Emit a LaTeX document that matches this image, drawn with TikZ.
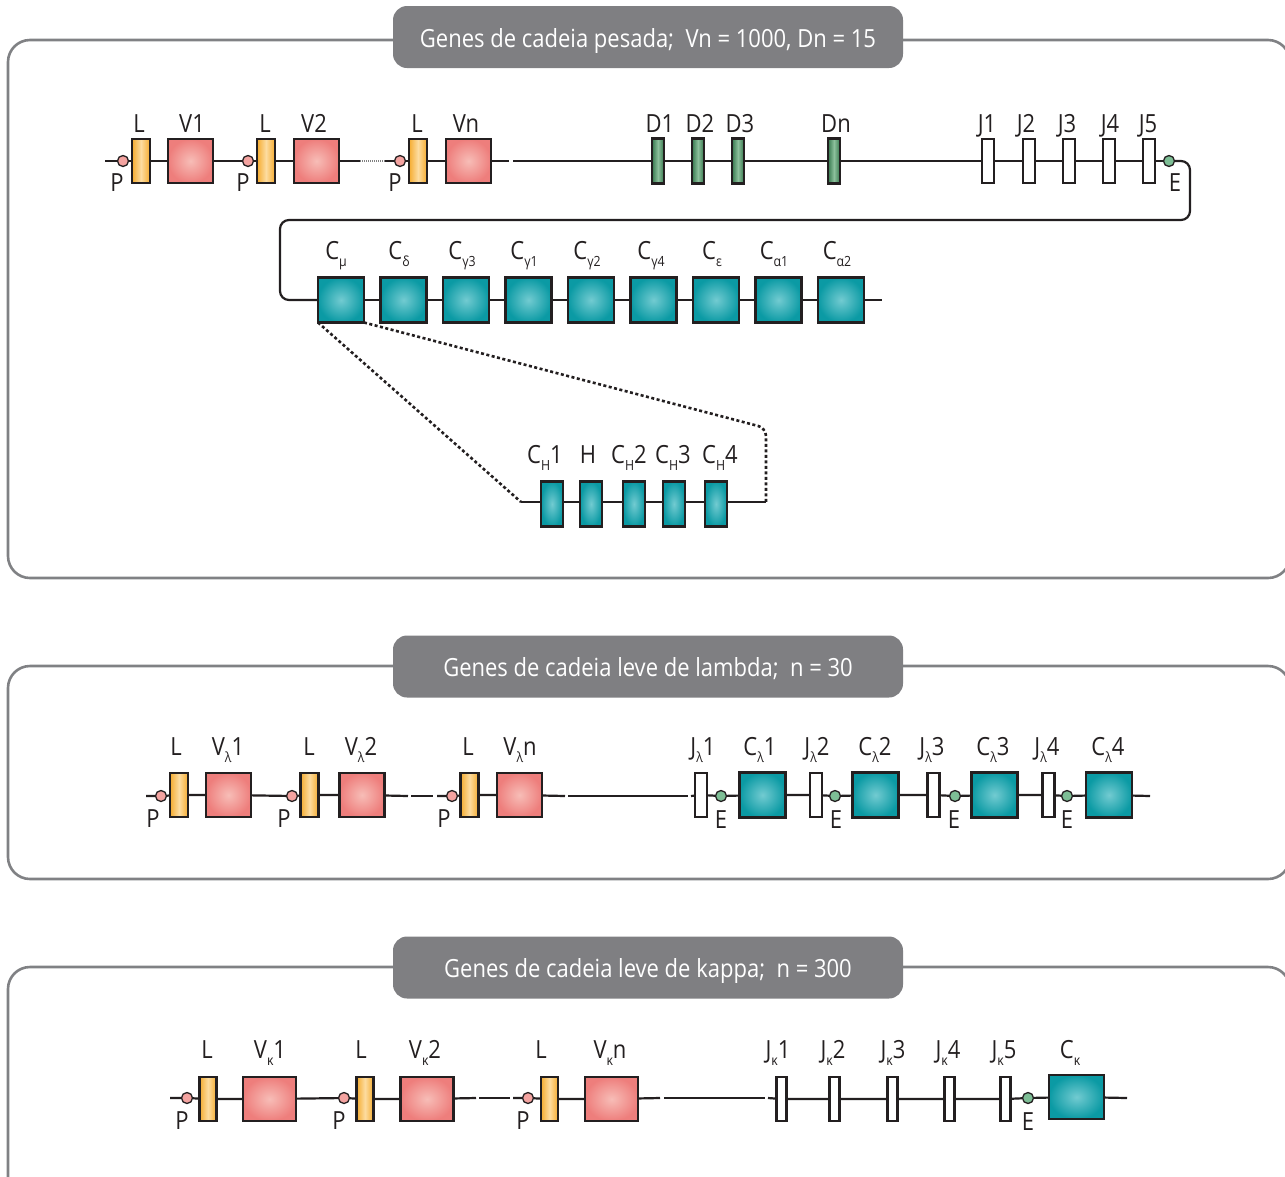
\documentclass[tikz,border=0pt]{standalone}
\usepackage{fontspec}
\setmainfont{Open Sans}[FakeStretch=0.88]
\usetikzlibrary{backgrounds}
\definecolor{stk}{HTML}{231F20}
\definecolor{frm}{HTML}{808184}
\definecolor{ttl}{HTML}{7F7F82}
\definecolor{vout}{HTML}{EE7E7C}
\definecolor{vin}{HTML}{F7BDB7}
\definecolor{lout}{HTML}{F5AC30}
\definecolor{lin}{HTML}{FDDCA0}
\definecolor{dout}{HTML}{37784E}
\definecolor{din}{HTML}{8CC09C}
\definecolor{cout}{HTML}{0B9AA4}
\definecolor{cin}{HTML}{72CBD1}
\definecolor{pfill}{HTML}{F4A3A0}
\definecolor{efill}{HTML}{7DBE95}
\newcommand\sbs[1]{\raisebox{-7.5pt}{\fontsize{14}{14}\selectfont #1}}
\tikzset{
  seg/.style={draw=stk, line width=2.6pt, inner sep=0pt, outer sep=0pt},
  vbox/.style={seg, minimum width=45, minimum height=44, inner color=vin, outer color=vout},
  lbox/.style={seg, minimum width=18, minimum height=44, left color=lout, right color=lout, middle color=lin},
  dbox/.style={seg, minimum width=12, minimum height=45, left color=dout, right color=dout, middle color=din},
  jbox/.style={seg, minimum width=12, minimum height=44, fill=white},
  cbox/.style={seg, minimum width=46, minimum height=45, inner color=cin, outer color=cout},
  chbox/.style={seg, minimum width=22, minimum height=45, inner color=cin, outer color=cout},
  pdot/.style={circle, draw=stk, line width=1.3pt, fill=pfill, minimum size=11, inner sep=0pt},
  edot/.style={circle, draw=stk, line width=1.3pt, fill=efill, minimum size=11, inner sep=0pt},
  lbl/.style={inner sep=0pt, anchor=base, font=\fontsize{25}{25}\selectfont, text=stk},
  plbl/.style={inner sep=0pt, font=\fontsize{25}{25}\selectfont, text=stk},
  bb/.style={draw=stk, line width=2.2pt},
  dotl/.style={draw=stk, line width=2.6pt, dash pattern=on 3pt off 2.5pt},
  finedot/.style={draw=gray, line width=2pt, dash pattern=on 1pt off 1pt},
  frame/.style={draw=frm, line width=2.6pt, rounded corners=22},
  ttlbox/.style={fill=ttl, rounded corners=14, minimum width=510, minimum height=62, text=white, inner sep=0pt, text height=22pt, text depth=2pt, font=\fontsize{25}{25}\selectfont}
}
\begin{document}
\begin{tikzpicture}[x=1pt,y=-1pt]
\useasboundingbox (0,0) rectangle (1285,1176);
% ---------- frames ----------
\begin{scope}[on background layer]
\path[frame] (8,40) rectangle (1290,578);
\path[frame] (8,666) rectangle (1290,879);
\path[frame] (8,967) rectangle (1290,1200);
\end{scope}
\node[ttlbox] (t1) at (648,37) {Genes de cadeia pesada;\ \ Vn = 1000, Dn = 15};
\node[ttlbox] (t2) at (648,666.5) {Genes de cadeia leve de lambda;\ \ n = 30};
\node[ttlbox] (t3) at (648,967.5) {Genes de cadeia leve de kappa;\ \ n = 300};

% ---------- heavy chain ----------
\coordinate (hs) at (105,161);
\node[pdot] (p1) at (123,161) {};
\node[lbox] (l1) at (141,161) {};
\node[vbox] (v1) at (190.5,161) {};
\node[pdot] (p2) at (248,161) {};
\node[lbox] (l2) at (266,161) {};
\node[vbox] (v2) at (316.5,161) {};
\coordinate (hg1) at (360,161);
\coordinate (hg2) at (385,161);
\node[pdot] (p3) at (400,161) {};
\node[lbox] (l3) at (418,161) {};
\node[vbox] (v3) at (468.5,161) {};
\coordinate (hg3) at (509,161);
\coordinate (hg4) at (513,161);
\node[dbox] (d1) at (658,161) {};
\node[dbox] (d2) at (698,161) {};
\node[dbox] (d3) at (738,161) {};
\node[dbox] (dn) at (834,161) {};
\node[jbox] (j1) at (988,161) {};
\node[jbox] (j2) at (1029,161) {};
\node[jbox] (j3) at (1069,161) {};
\node[jbox] (j4) at (1109,161) {};
\node[jbox] (j5) at (1149,161) {};
\node[edot] (e1) at (1169,161) {};
\coordinate (tr1) at (1190,161);
\coordinate (tr2) at (1190,220);
\coordinate (tr3) at (280,220);
\coordinate (tr4) at (280,300);
\node[cbox] (cmu) at (341,300) {};
\node[cbox] (cdl) at (403.5,300) {};
\node[cbox] (cg3) at (466,300) {};
\node[cbox] (cg1) at (528.5,300) {};
\node[cbox] (cg2) at (591,300) {};
\node[cbox] (cg4) at (653.5,300) {};
\node[cbox] (cep) at (716,300) {};
\node[cbox] (ca1) at (778.5,300) {};
\node[cbox] (ca2) at (841,300) {};
\coordinate (hend) at (882,300);
% CH exons
\coordinate (chL) at (521,502);
\coordinate (chR) at (766,502);
\coordinate (chT) at (766,428);
\node[chbox] (ch1) at (552,504) {};
\node[chbox] (chh) at (591,504) {};
\node[chbox] (ch2) at (634,504) {};
\node[chbox] (ch3) at (674,504) {};
\node[chbox] (ch4) at (716,504) {};

\begin{scope}[on background layer]
\draw[bb] (hs) -- (p1) -- (l1) -- (v1) -- (p2) -- (l2) -- (v2) -- (hg1);
\draw[finedot] (hg1) -- (hg2);
\draw[bb] (hg2) -- (p3) -- (l3) -- (v3) -- (hg3);
\draw[bb] (hg4) -- (d1) -- (d2) -- (d3) -- (dn) -- (j1) -- (j2) -- (j3) -- (j4) -- (j5) -- (e1);
\draw[bb, rounded corners=9] (e1) -- (tr1) -- (tr2) -- (tr3) -- (tr4) -- (cmu);
\draw[bb] (cmu) -- (cdl) -- (cg3) -- (cg1) -- (cg2) -- (cg4) -- (cep) -- (ca1) -- (ca2) -- (hend);
\draw[bb] (chL) -- (chR);
\draw[dotl] (cmu.south west) -- (chL);
\draw[dotl, rounded corners=8] (cmu.south east) -- (chT) -- (chR);
\end{scope}

% heavy labels
\node[lbl] (tl1) at (139,132) {L};
\node[lbl] (tv1) at (192,132) {V1};
\node[lbl] (tl2) at (265,132) {L};
\node[lbl] (tv2) at (314,132) {V2};
\node[lbl] (tl3) at (417,132) {L};
\node[lbl] (tvn) at (466,132) {Vn};
\node[plbl] (tp1) at (117,183) {P};
\node[plbl] (tp2) at (243,183) {P};
\node[plbl] (tp3) at (395,183) {P};
\node[lbl] (td1) at (660,132) {D1};
\node[lbl] (td2) at (700,132) {D2};
\node[lbl] (td3) at (740,132) {D3};
\node[lbl] (tdn) at (836,132) {Dn};
\node[lbl] (tj1) at (987,132) {J1};
\node[lbl] (tj2) at (1026,132) {J2};
\node[lbl] (tj3) at (1067,132) {J3};
\node[lbl] (tj4) at (1110,132) {J4};
\node[lbl] (tj5) at (1148,132) {J5};
\node[plbl] (te1) at (1175,183) {E};
\node[lbl] (tcmu) at (336,259) {C\sbs{μ}};
\node[lbl] (tcdl) at (399,259) {C\sbs{δ}};
\node[lbl] (tcg3) at (462,259) {C\sbs{γ3}};
\node[lbl] (tcg1) at (524,259) {C\sbs{γ1}};
\node[lbl] (tcg2) at (587,259) {C\sbs{γ2}};
\node[lbl] (tcg4) at (651,259) {C\sbs{γ4}};
\node[lbl] (tcep) at (712,259) {C\sbs{ε}};
\node[lbl] (tca1) at (774,259) {C\sbs{α1}};
\node[lbl] (tca2) at (837,259) {C\sbs{α2}};
\node[lbl] (tch1) at (545,463) {C\sbs{H}1};
\node[lbl] (tchh) at (588,463) {H};
\node[lbl] (tch2) at (629,463) {C\sbs{H}2};
\node[lbl] (tch3) at (673,463) {C\sbs{H}3};
\node[lbl] (tch4) at (720,463) {C\sbs{H}4};

% ---------- lambda ----------
\coordinate (ls) at (146,796);
\node[pdot] (lp1) at (161,796) {};
\node[lbox] (ll1) at (179,795) {};
\node[vbox] (lv1) at (228.5,795) {};
\node[pdot] (lp2) at (292,796) {};
\node[lbox] (ll2) at (309.5,795) {};
\node[vbox] (lv2) at (362,795) {};
\coordinate (lg1) at (408,796);
\coordinate (lg2) at (411,796);
\coordinate (lg3) at (433,796);
\coordinate (lg4) at (437,796);
\node[pdot] (lp3) at (452,796) {};
\node[lbox] (ll3) at (469.5,795) {};
\node[vbox] (lv3) at (519.5,795) {};
\coordinate (lg5) at (565,796);
\coordinate (lg6) at (568,796);
\coordinate (lg7) at (688,796);
\coordinate (lg8) at (691,796);
\node[jbox] (lj1) at (701,795) {};
\node[edot] (le1) at (721,796) {};
\node[cbox] (lc1) at (762.5,795) {};
\node[jbox] (lj2) at (816,795) {};
\node[edot] (le2) at (835,796) {};
\node[cbox] (lc2) at (875.5,795) {};
\node[jbox] (lj3) at (933.5,795) {};
\node[edot] (le3) at (955,796) {};
\node[cbox] (lc3) at (994.5,795) {};
\node[jbox] (lj4) at (1048.5,795) {};
\node[edot] (le4) at (1067,796) {};
\node[cbox] (lc4) at (1109,795) {};
\coordinate (lend) at (1150,796);
\begin{scope}[on background layer]
\draw[bb] (ls) -- (lp1) -- (ll1) -- (lv1) -- (lp2) -- (ll2) -- (lv2) -- (lg1);
\draw[bb] (lg2) -- (lg3);
\draw[bb] (lg4) -- (lp3) -- (ll3) -- (lv3) -- (lg5);
\draw[bb] (lg6) -- (lg7);
\draw[bb] (lg8) -- (lj1) -- (le1) -- (lc1) -- (lj2) -- (le2) -- (lc2) -- (lj3) -- (le3) -- (lc3) -- (lj4) -- (le4) -- (lc4) -- (lend);
\end{scope}
\node[lbl] (tll1) at (176,755) {L};
\node[lbl] (tlv1) at (228,755) {V\sbs{λ}1};
\node[lbl] (tll2) at (309,755) {L};
\node[lbl] (tlv2) at (361,755) {V\sbs{λ}2};
\node[lbl] (tll3) at (468,755) {L};
\node[lbl] (tlv3) at (520,755) {V\sbs{λ}n};
\node[lbl] (tlj1) at (703,755) {J\sbs{λ}1};
\node[lbl] (tlc1) at (760,755) {C\sbs{λ}1};
\node[lbl] (tlj2) at (817,755) {J\sbs{λ}2};
\node[lbl] (tlc2) at (875,755) {C\sbs{λ}2};
\node[lbl] (tlj3) at (932,755) {J\sbs{λ}3};
\node[lbl] (tlc3) at (993,755) {C\sbs{λ}3};
\node[lbl] (tlj4) at (1047,755) {J\sbs{λ}4};
\node[lbl] (tlc4) at (1108,755) {C\sbs{λ}4};
\node[plbl] (tlp1) at (153,819) {P};
\node[plbl] (tlp2) at (284,819) {P};
\node[plbl] (tlp3) at (444,819) {P};
\node[plbl] (tle1) at (721,820) {E};
\node[plbl] (tle2) at (836,820) {E};
\node[plbl] (tle3) at (954,820) {E};
\node[plbl] (tle4) at (1067,820) {E};

% ---------- kappa ----------
\coordinate (ks) at (170,1098);
\node[pdot] (kp1) at (187,1098) {};
\node[lbox, minimum width=17] (kl1) at (208,1099) {};
\node[vbox, minimum width=53] (kv1) at (269.5,1099) {};
\node[pdot] (kp2) at (344,1098) {};
\node[lbox, minimum width=17] (kl2) at (365,1099) {};
\node[vbox, minimum width=53] (kv2) at (427,1099) {};
\coordinate (kg1) at (476,1098);
\coordinate (kg2) at (479,1098);
\coordinate (kg3) at (510,1098);
\coordinate (kg4) at (513,1098);
\node[pdot] (kp3) at (528,1098) {};
\node[lbox, minimum width=17] (kl3) at (549.5,1099) {};
\node[vbox, minimum width=53] (kv3) at (611.5,1099) {};
\coordinate (kg5) at (660,1098);
\coordinate (kg6) at (664,1098);
\coordinate (kg7) at (765,1098);
\coordinate (kg8) at (768,1098);
\node[jbox, minimum width=10] (kj1) at (781.5,1099) {};
\node[jbox, minimum width=10] (kj2) at (834.5,1099) {};
\node[jbox, minimum width=10] (kj3) at (892.5,1099) {};
\node[jbox, minimum width=10] (kj4) at (949.5,1099) {};
\node[jbox, minimum width=10] (kj5) at (1005.5,1099) {};
\node[edot] (ke1) at (1028,1098) {};
\node[cbox, minimum width=55, minimum height=44] (kc) at (1076.5,1097) {};
\coordinate (kend) at (1127,1098);
\begin{scope}[on background layer]
\draw[bb] (ks) -- (kp1) -- (kl1) -- (kv1) -- (kp2) -- (kl2) -- (kv2) -- (kg1);
\draw[bb] (kg2) -- (kg3);
\draw[bb] (kg4) -- (kp3) -- (kl3) -- (kv3) -- (kg5);
\draw[bb] (kg6) -- (kg7);
\draw[bb] (kg8) -- (kj1) -- (kj2) -- (kj3) -- (kj4) -- (kj5) -- (ke1) -- (kc) -- (kend);
\end{scope}
\node[lbl] (tkl1) at (207,1058) {L};
\node[lbl] (tkv1) at (270,1058) {V\sbs{κ}1};
\node[lbl] (tkl2) at (361,1058) {L};
\node[lbl] (tkv2) at (425,1058) {V\sbs{κ}2};
\node[lbl] (tkl3) at (541,1058) {L};
\node[lbl] (tkv3) at (610,1058) {V\sbs{κ}n};
\node[lbl] (tkj1) at (778,1058) {J\sbs{κ}1};
\node[lbl] (tkj2) at (833,1058) {J\sbs{κ}2};
\node[lbl] (tkj3) at (893,1058) {J\sbs{κ}3};
\node[lbl] (tkj4) at (948,1058) {J\sbs{κ}4};
\node[lbl] (tkj5) at (1004,1058) {J\sbs{κ}5};
\node[lbl] (tkc) at (1070,1058) {C\sbs{κ}};
\node[plbl] (tkp1) at (182,1121) {P};
\node[plbl] (tkp2) at (339,1121) {P};
\node[plbl] (tkp3) at (523,1121) {P};
\node[plbl] (tke1) at (1028,1122) {E};
\end{tikzpicture}
\end{document}
